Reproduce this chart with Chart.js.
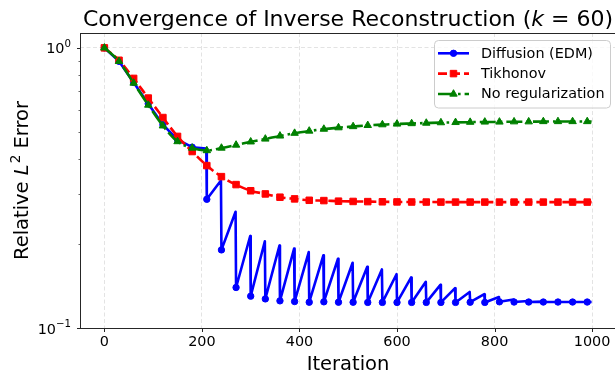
<!DOCTYPE html>
<html>
<head>
<meta charset="utf-8">
<script src="https://cdn.jsdelivr.net/npm/chart.js@4.4.1/dist/chart.umd.min.js"></script>
<style>
  html, body { margin: 0; padding: 0; background: #fff; overflow: hidden; }
  #wrap { width: 615px; height: 374px; overflow: hidden; }
  canvas { display: block; }
</style>
</head>
<body>
<div id="wrap"><canvas id="c" width="640" height="374"></canvas></div>
<script>
const FONT = '"DejaVu Sans", "Liberation Sans", sans-serif';

// axis ticks
const xTicks = [0, 200, 400, 600, 800, 1000];
const yMajor = [0.1, 1];
const yMinor = [0.2, 0.3, 0.4, 0.5, 0.6, 0.7, 0.8, 0.9];

// iterations where Tikhonov / no-reg errors were sampled (markers every 30)
const markIter = [0, 30, 60, 90, 120, 150, 180, 210, 240, 270, 300, 330, 360, 390, 420, 450, 480,
  510, 540, 570, 600, 630, 660, 690, 720, 750, 780, 810, 840, 870, 900, 930, 960, 990, 999];

// diffusion prior: restart drops every 30 iterations, drift back up in between
const diffIter = [0, 30, 60, 90, 120, 150, 180, 209,
  210, 239, 240, 269, 270, 299, 300, 329, 330, 359, 360, 389, 390, 419, 420, 449, 450, 479,
  480, 509, 510, 539, 540, 569, 570, 599, 600, 629, 630, 659, 660, 689, 690, 719, 720, 749,
  750, 779, 780, 809, 810, 839, 840, 869, 870, 899, 900, 930, 960, 990, 999];
const diffusionErr = [1.0, 0.895, 0.753, 0.632, 0.532, 0.470, 0.442, 0.437,
  0.288, 0.336, 0.190, 0.260, 0.1395, 0.213, 0.1299, 0.204, 0.127, 0.197, 0.125, 0.192,
  0.1243, 0.1866, 0.1236, 0.1816, 0.124, 0.1767, 0.1236, 0.171, 0.1236, 0.1653, 0.1234, 0.1618,
  0.1234, 0.1556, 0.1234, 0.1515, 0.1234, 0.1462, 0.1234, 0.1426, 0.1234, 0.1387, 0.1234, 0.1345,
  0.1236, 0.132, 0.1234, 0.129, 0.124, 0.1264, 0.1238, 0.1248, 0.1238, 0.1242,
  0.1238, 0.1238, 0.1238, 0.1238, 0.1238];

const tikhonovErr = [1.0, 0.903, 0.778, 0.662, 0.564, 0.483, 0.4265, 0.380, 0.347, 0.325, 0.309,
  0.301, 0.293, 0.289, 0.2857, 0.2850, 0.2836, 0.2830, 0.2826, 0.2822, 0.2819, 0.2817, 0.2816,
  0.2815, 0.2815, 0.2815, 0.2815, 0.2815, 0.2815, 0.2815, 0.2815, 0.2815, 0.2815, 0.2815, 0.2815];

const noRegErr = [1.0, 0.895, 0.749, 0.625, 0.527, 0.463, 0.439, 0.430, 0.439, 0.450, 0.462,
  0.473, 0.485, 0.496, 0.505, 0.513, 0.519, 0.524, 0.529, 0.532, 0.535, 0.537, 0.539, 0.541,
  0.542, 0.543, 0.544, 0.544, 0.545, 0.545, 0.546, 0.546, 0.546, 0.546, 0.546];

const seriesNames = ['Diffusion (EDM)', 'Tikhonov', 'No regularization'];

const zip = (xs, ys) => xs.map((x, i) => ({ x, y: ys[i] }));
const markerRadius = r => c => (c.raw && c.raw.x % 30 === 0 ? r : 0);
const isMajor = v => Math.abs(Math.log10(v) - Math.round(Math.log10(v))) < 1e-9;
const gridColor = 'rgba(176,176,176,0.45)';

// draws the bits matplotlib-style: frame, tick marks, math labels, legend
const decorations = {
  id: 'decorations',
  afterDraw(chart) {
    const { ctx, chartArea: a, scales: { x, y } } = chart;
    ctx.save();

    ctx.strokeStyle = '#262626';
    ctx.lineWidth = 1;
    const L = Math.round(a.left) + 0.5, T = Math.round(a.top) + 0.5;
    const R = Math.round(a.right) + 0.5, B = Math.round(a.bottom) + 0.5;
    ctx.strokeRect(L, T, R - L, B - T);

    ctx.beginPath();
    xTicks.forEach(v => {
      const px = Math.round(x.getPixelForValue(v)) + 0.5;
      ctx.moveTo(px, B); ctx.lineTo(px, B + 3.5);
    });
    yMajor.forEach(v => {
      const py = Math.round(y.getPixelForValue(v)) + 0.5;
      ctx.moveTo(L, py); ctx.lineTo(L - 3.5, py);
    });
    ctx.stroke();
    ctx.beginPath();
    ctx.lineWidth = 0.7;
    yMinor.forEach(v => {
      const py = Math.round(y.getPixelForValue(v)) + 0.5;
      ctx.moveTo(L, py); ctx.lineTo(L - 2, py);
    });
    ctx.stroke();

    // y tick labels as 10^n
    ctx.fillStyle = '#000';
    ctx.textBaseline = 'alphabetic';
    yMajor.forEach(v => {
      const py = y.getPixelForValue(v);
      const exp = String(Math.round(Math.log10(v))).replace('-', '\u2212');
      ctx.font = '10.2px ' + FONT;
      const ew = ctx.measureText(exp).width;
      ctx.font = '14.4px ' + FONT;
      const bw = ctx.measureText('10').width;
      const right = 71;
      ctx.textAlign = 'left';
      ctx.fillText('10', right - ew - bw, py + 5.5);
      ctx.font = '10.2px ' + FONT;
      ctx.fillText(exp, right - ew, py - 1.2);
    });

    // mixed-style text runs
    const runs = (parts, size) => parts.map(([t, st]) => {
      ctx.font = (st || '') + ' ' + size + 'px ' + FONT;
      return { t, font: ctx.font, w: ctx.measureText(t).width };
    });
    const drawRuns = (rs, x0, y0) => {
      let cx = x0;
      rs.forEach(r => { ctx.font = r.font; ctx.fillText(r.t, cx, y0); cx += r.w; });
    };

    const cx = (a.left + a.right) / 2;
    ctx.textAlign = 'left';
    const title = runs([['Convergence of Inverse Reconstruction ('], ['k', 'italic'], [' = 60)']], 22);
    const tw = title.reduce((s, r) => s + r.w, 0);
    drawRuns(title, cx - tw / 2, 26);

    ctx.font = '19.5px ' + FONT;
    ctx.textAlign = 'center';
    ctx.fillText('Iteration', cx, 369.5);

    // y label, rotated, with italic L and superscript 2
    ctx.save();
    ctx.translate(28.3, (a.top + a.bottom) / 2);
    ctx.rotate(-Math.PI / 2);
    ctx.textAlign = 'left';
    const pre = runs([['Relative '], ['L', 'italic']], 19.5);
    const sup = runs([['2']], 13.6);
    const post = runs([[' Error']], 19.5);
    const yw = [...pre, ...sup, ...post].reduce((s, r) => s + r.w, 0) + 1;
    let px = -yw / 2;
    drawRuns(pre, px, 0);
    px += pre.reduce((s, r) => s + r.w, 0) + 1;
    drawRuns(sup, px, -8);
    px += sup[0].w;
    drawRuns(post, px, 0);
    ctx.restore();

    // legend
    const bx = 434.5, by = 40.5, bw = 176, bh = 67.5;
    ctx.beginPath();
    ctx.roundRect(bx, by, bw, bh, 4);
    ctx.fillStyle = 'rgba(255,255,255,0.8)';
    ctx.fill();
    ctx.strokeStyle = '#cccccc';
    ctx.lineWidth = 1;
    ctx.stroke();

    const rowY = [53.3, 73.6, 94];
    chart.data.datasets.forEach((ds, i) => {
      const ry = rowY[i];
      ctx.save();
      ctx.strokeStyle = ds.borderColor;
      ctx.lineWidth = ds.borderWidth;
      ctx.lineJoin = 'round';
      ctx.setLineDash(ds.borderDash || []);
      ctx.beginPath();
      ctx.moveTo(438, ry); ctx.lineTo(469, ry);
      ctx.stroke();
      ctx.restore();
      ctx.fillStyle = ds.borderColor;
      ctx.strokeStyle = ds.borderColor;
      ctx.lineWidth = 1;
      Chart.helpers.drawPoint(ctx, {
        pointStyle: ds.pointStyle, radius: ds.legendRadius, borderWidth: 1, rotation: 0
      }, 453.5, ry);
      ctx.fillStyle = '#000';
      ctx.font = '14.4px ' + FONT;
      ctx.textAlign = 'left';
      ctx.textBaseline = 'middle';
      ctx.fillText(ds.label, 481, ry + 0.5);
      ctx.textBaseline = 'alphabetic';
    });

    ctx.restore();
  }
};

new Chart(document.getElementById('c'), {
  type: 'line',
  data: {
    datasets: [
      {
        label: seriesNames[0], data: zip(diffIter, diffusionErr),
        borderColor: '#0000ff', backgroundColor: '#0000ff', borderWidth: 2.6,
        borderJoinStyle: 'round',
        pointStyle: 'circle', pointRadius: markerRadius(3.2), legendRadius: 3.2,
        pointBorderWidth: 1, pointHoverRadius: 0, tension: 0, order: 3
      },
      {
        label: seriesNames[1], data: zip(markIter, tikhonovErr),
        borderColor: '#ff0000', backgroundColor: '#ff0000', borderWidth: 2.6, borderDash: [9, 4],
        borderJoinStyle: 'round',
        pointStyle: 'rect', pointRadius: markerRadius(4.6), legendRadius: 4.6,
        pointBorderWidth: 1, pointHoverRadius: 0, cubicInterpolationMode: 'monotone', order: 2
      },
      {
        label: seriesNames[2], data: zip(markIter, noRegErr),
        borderColor: '#008000', backgroundColor: '#008000', borderWidth: 2.6, borderDash: [16, 4, 2.6, 4],
        borderJoinStyle: 'round',
        pointStyle: 'triangle', pointRadius: markerRadius(4.3), legendRadius: 4.3,
        pointBorderWidth: 1, pointHoverRadius: 0, cubicInterpolationMode: 'monotone', order: 1
      }
    ]
  },
  options: {
    responsive: false,
    animation: false,
    events: [],
    layout: { padding: { top: 33, right: 24, bottom: 0, left: 0 } },
    plugins: { legend: { display: false }, tooltip: { enabled: false }, title: { display: false } },
    scales: {
      x: {
        type: 'linear', min: -50, max: 1049,
        afterBuildTicks: s => { s.ticks = xTicks.map(v => ({ value: v })); },
        afterFit: s => { s.height = 46; },
        grid: { color: gridColor, lineWidth: 0.8, drawTicks: false },
        border: { display: false, dash: [4, 2.5] },
        ticks: {
          font: { family: FONT, size: 14.4 }, color: '#000', padding: 6,
          maxRotation: 0, autoSkip: false, callback: v => String(v)
        }
      },
      y: {
        type: 'logarithmic', min: 0.1, max: 1.13,
        afterBuildTicks: s => { s.ticks = [...yMajor, ...yMinor].sort((p, q) => p - q).map(v => ({ value: v })); },
        afterFit: s => { s.width = 80; },
        grid: {
          color: c => (c.tick && isMajor(c.tick.value) ? gridColor : 'rgba(0,0,0,0)'),
          lineWidth: 0.8, drawTicks: false
        },
        border: { display: false, dash: [4, 2.5] },
        ticks: { display: false }
      }
    }
  },
  plugins: [decorations]
});
</script>
</body>
</html>
